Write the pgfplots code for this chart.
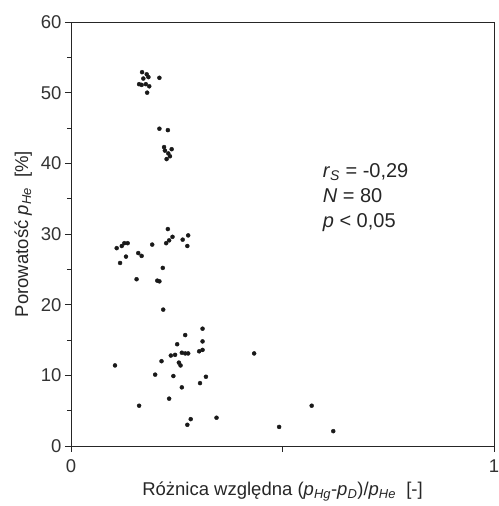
\documentclass[border=0pt]{standalone}
\usepackage{pgfplots}
\pgfplotsset{compat=1.18}
\usepackage{fontspec}
\setmainfont{Liberation Sans}
\begin{document}
\begin{tikzpicture}
\begin{axis}[
  name=ax,
  scale only axis,
  width=423pt, height=424pt,
  xmin=0, xmax=1, ymin=0, ymax=60,
  xtick={0,0.5,1}, xticklabels={0,,1},
  ytick={0,10,...,60},
  minor ytick={5,15,...,55},
  tick align=outside,
  xtick pos=bottom, ytick pos=left,
  major tick length=6pt, minor tick length=4pt,
  axis line style={black!85, line width=0.9pt},
  every tick/.style={black!85, line width=0.8pt},
  /pgf/number format/assume math mode=true,
  tick label style={font=\fontsize{18.5}{20}\selectfont, text=black!80},
  xticklabel style={yshift=-4pt},
  xlabel={Różnica względna (\textit{p}\textsubscript{\textit{Hg}}-\textit{p}\textsubscript{\textit{D}})/\textit{p}\textsubscript{\textit{He}}\ \ [-]},
  ylabel={Porowatość \textit{p}\textsubscript{\textit{He}}\ \ [\%]},
  label style={font=\fontsize{18.5}{20}\selectfont, text=black!85},
  xlabel style={at={(axis description cs:0.5,-0.108)}, anchor=center},
  ylabel style={at={(axis description cs:-0.113,0.5)}, anchor=center},
  clip=false,
]
\addplot[only marks, mark=*, mark size=2pt, black!90] table {
x y
0.168 52.9
0.179 52.6
0.183 52.2
0.171 52.0
0.161 51.2
0.167 51.1
0.177 51.2
0.185 50.9
0.180 50.0
0.209 52.1
0.209 44.9
0.229 44.7
0.220 42.3
0.238 42.0
0.230 41.4
0.226 40.6
0.234 41.0
0.222 41.8
0.229 30.7
0.240 29.6
0.232 29.1
0.225 28.7
0.277 29.8
0.264 29.2
0.275 28.3
0.192 28.5
0.134 28.7
0.126 28.7
0.120 28.3
0.108 28.0
0.130 26.8
0.116 25.9
0.159 27.3
0.167 26.9
0.217 25.2
0.155 23.6
0.204 23.4
0.209 23.3
0.218 19.3
0.311 16.6
0.270 15.7
0.311 14.8
0.251 14.4
0.236 12.8
0.246 12.9
0.262 13.2
0.270 13.1
0.277 13.1
0.303 13.4
0.311 13.6
0.214 12.0
0.255 11.8
0.259 11.4
0.104 11.4
0.199 10.1
0.242 9.9
0.319 9.8
0.305 8.9
0.262 8.3
0.232 6.7
0.161 5.7
0.283 3.8
0.275 3.0
0.344 4.0
0.433 13.1
0.569 5.7
0.492 2.7
0.620 2.1
};
\node[anchor=west, align=left, font=\fontsize{20}{25}\selectfont, text=black!85] at (axis cs:0.587,35.2)
  {\textit{r}\textsubscript{\textit{S}} = -0,29\\ \textit{N} = 80\\ \textit{p} {\char"003C} 0,05};
\end{axis}
\pgfresetboundingbox
\path ([shift={(-71pt,-60pt)}]ax.south west) rectangle ([shift={(4pt,22pt)}]ax.north east);
\end{tikzpicture}
\end{document}
